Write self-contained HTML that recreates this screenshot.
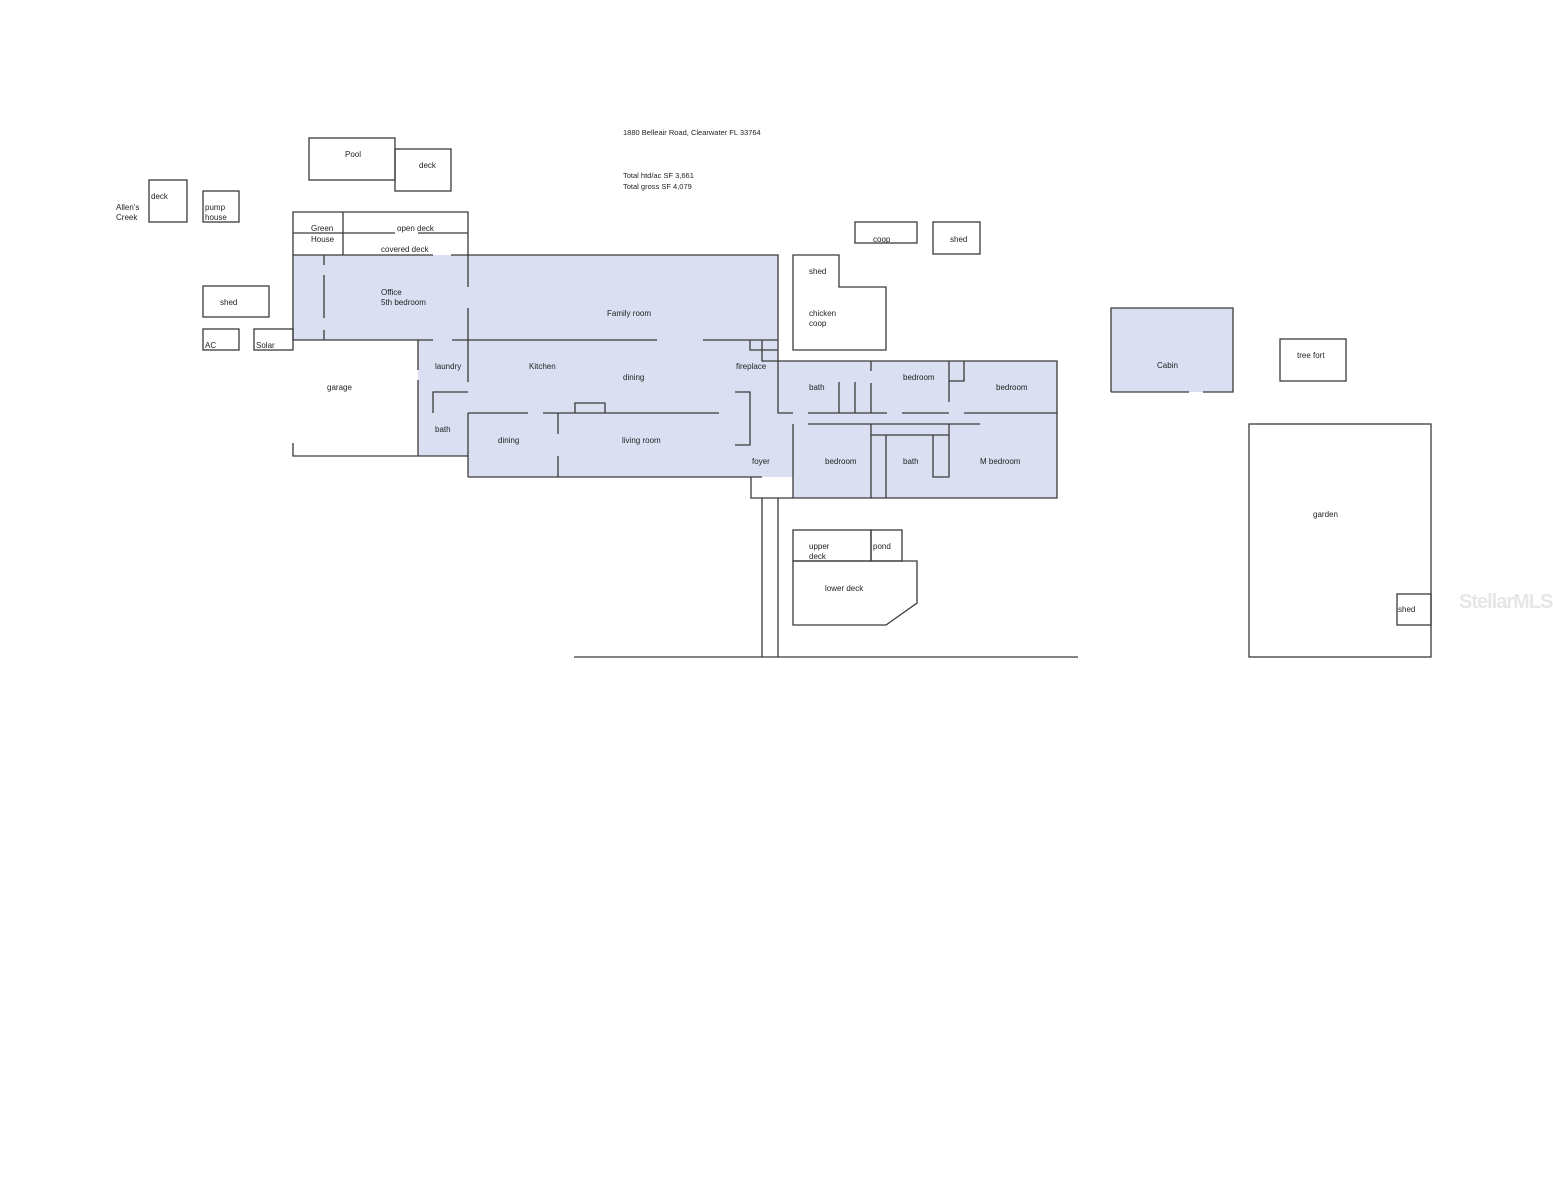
<!DOCTYPE html>
<html><head><meta charset="utf-8"><style>
html,body{margin:0;padding:0;background:#fff;}
svg{display:block}
text{font-family:"Liberation Sans",sans-serif;font-size:8px;fill:#222;}
</style></head><body>
<svg width="1553" height="1200" viewBox="0 0 1553 1200" xmlns="http://www.w3.org/2000/svg">
<g fill="#dae0f2" stroke="none">
<polygon points="293,255 778,255 778,361 1057,361 1057,498 793,498 793,477 468,477 468,456 418,456 418,340 293,340"/>
<rect x="751" y="413" width="42" height="64"/>
<rect x="1111" y="308" width="122" height="84"/>
</g>
<g stroke="#3a3a3a" stroke-width="1.3" fill="none">
<rect x="309" y="138" width="86" height="42"/>
<rect x="395" y="149" width="56" height="42"/>
<rect x="149" y="180" width="38" height="42"/>
<rect x="203" y="191" width="36" height="31"/>
<rect x="203" y="286" width="66" height="31"/>
<rect x="203" y="329" width="36" height="21"/>
<rect x="254" y="329" width="39" height="21"/>
<rect x="855" y="222" width="62" height="21"/>
<rect x="933" y="222" width="47" height="32"/>
<polygon points="793,255 839,255 839,287 886,287 886,350 793,350"/>
<path d="M1111,392 V308 H1233 V392 H1203 M1189,392 H1111"/>
<rect x="1280" y="339" width="66" height="42"/>
<rect x="1249" y="424" width="182" height="233"/>
<rect x="1397" y="594" width="34" height="31"/>
<rect x="793" y="530" width="78" height="31"/>
<rect x="871" y="530" width="31" height="31"/>
<polygon points="793,561 917,561 917,603 886,625 793,625"/>
<line x1="574" y1="657" x2="1078" y2="657"/>
<line x1="762" y1="498" x2="762" y2="657"/>
<line x1="778" y1="498" x2="778" y2="657"/>
<path d="M293,340 V212 H468 V255"/>
<line x1="343" y1="212" x2="343" y2="255"/>
<path d="M293,233 H395 M418,233 H468"/>
<path d="M293,255 H433 M451,255 H778 V413 H793"/>
<path d="M324,255 V265 M324,275 V318 M324,330 V340"/>
<path d="M293,340 H433 M452,340 H657 M703,340 H778"/>
<path d="M468,255 V287 M468,308 V382 M468,413 V477"/>
<path d="M418,340 V370 M418,380 V456"/>
<path d="M433,413 V392 H468"/>
<path d="M293,443 V456 H468"/>
<path d="M468,413 H528 M543,413 H719"/>
<path d="M575,413 V403 H605 V413"/>
<path d="M558,413 V434 M558,456 V477"/>
<path d="M468,477 H762"/>
<path d="M735,392 H750 V445 H735"/>
<path d="M750,340 V350 H778 M762,340 V361 H1057 V498 H751 V477"/>
<path d="M793,424 V498"/>
<path d="M871,361 V371 M871,383 V413"/>
<path d="M839,382 V413 M855,382 V413"/>
<path d="M808,413 H887 M902,413 H949 M964,413 H1057"/>
<path d="M949,361 V402 M949,381 H964 V361"/>
<path d="M808,424 H980"/>
<path d="M871,424 V498 M871,435 H949 M886,435 V498"/>
<path d="M933,435 V477 H949 V424"/>
</g>
<text x="623" y="135" style="font-size:7.5px">1880 Belleair Road, Clearwater FL 33764</text>
<text x="623" y="178" style="font-size:7.5px">Total htd/ac SF 3,661</text>
<text x="623" y="189" style="font-size:7.5px">Total gross SF 4,079</text>
<text x="345" y="157">Pool</text>
<text x="419" y="168">deck</text>
<text x="151" y="199">deck</text>
<text x="116" y="210">Allen's</text>
<text x="116" y="220">Creek</text>
<text x="205" y="210">pump</text>
<text x="205" y="220">house</text>
<text x="311" y="231">Green</text>
<text x="311" y="242">House</text>
<text x="397" y="231">open deck</text>
<text x="381" y="252">covered deck</text>
<text x="220" y="305">shed</text>
<text x="205" y="348">AC</text>
<text x="256" y="348">Solar</text>
<text x="381" y="295">Office</text>
<text x="381" y="305">5th bedroom</text>
<text x="607" y="316">Family room</text>
<text x="327" y="390">garage</text>
<text x="435" y="369">laundry</text>
<text x="435" y="432">bath</text>
<text x="529" y="369">Kitchen</text>
<text x="623" y="380">dining</text>
<text x="498" y="443">dining</text>
<text x="622" y="443">living room</text>
<text x="736" y="369">fireplace</text>
<text x="752" y="464">foyer</text>
<text x="809" y="390">bath</text>
<text x="903" y="380">bedroom</text>
<text x="996" y="390">bedroom</text>
<text x="825" y="464">bedroom</text>
<text x="903" y="464">bath</text>
<text x="980" y="464">M bedroom</text>
<text x="873" y="242">coop</text>
<text x="950" y="242">shed</text>
<text x="809" y="274">shed</text>
<text x="809" y="316">chicken</text>
<text x="809" y="326">coop</text>
<text x="1157" y="368">Cabin</text>
<text x="1297" y="358">tree fort</text>
<text x="1313" y="517">garden</text>
<text x="1398" y="612">shed</text>
<text x="809" y="549">upper</text>
<text x="809" y="559">deck</text>
<text x="873" y="549">pond</text>
<text x="825" y="591">lower deck</text>
<text x="1459" y="608" style="font-size:20px;fill:#e6e6e6;font-weight:bold;letter-spacing:-1px">StellarMLS</text>
</svg>
</body></html>
